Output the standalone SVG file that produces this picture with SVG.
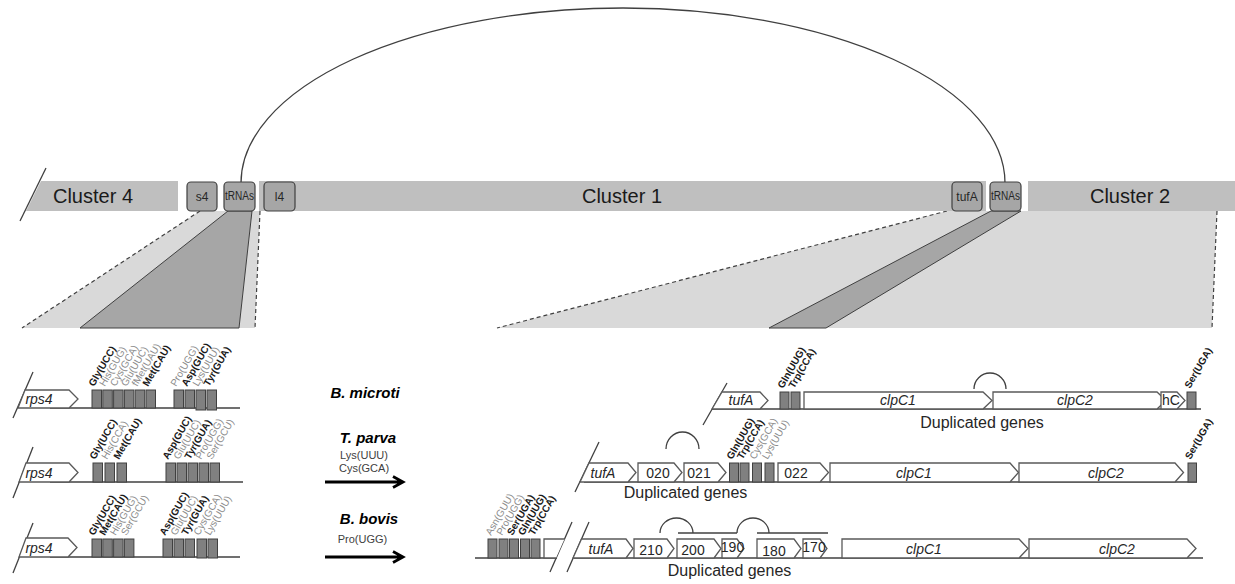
<svg xmlns="http://www.w3.org/2000/svg" width="1235" height="584" viewBox="0 0 1235 584">
<style>
text{font-family:"Liberation Sans",Arial,sans-serif}
.bar{fill:#bfbfbf}
.box{fill:#a6a6a6;stroke:#404040;stroke-width:1.2}
.bt{font-size:12px;fill:#262626;text-anchor:middle}
.ct{font-size:20px;fill:#1a1a1a;text-anchor:middle}
.lt{fill:#d9d9d9}
.dash{stroke:#404040;stroke-width:1.2;stroke-dasharray:4 3;fill:none}
.dk{fill:#a6a6a6;stroke:#404040;stroke-width:1}
.gene{fill:#fff;stroke:#595959;stroke-width:1.3}
.tr{fill:#808080;stroke:#404040;stroke-width:1}
.ln{stroke:#404040;stroke-width:1.3;fill:none}
.lb{font-size:10px;font-weight:bold;fill:#1a1a1a}
.lg{font-size:10px;fill:#8c8c8c}
.gl{font-size:14px;fill:#262626;text-anchor:middle}
.it{font-style:italic}
.sp{font-size:15px;font-weight:bold;font-style:italic;fill:#000;text-anchor:middle}
.sm{font-size:11px;fill:#404040;text-anchor:middle}
.dup{font-size:16px;fill:#262626;text-anchor:middle}
.arr{stroke:#000;stroke-width:2.8;fill:none}
</style>
<g id="zooms">
<polygon class="lt" points="200,211 260,211 255,328 22,328"/>
<line class="dash" x1="200" y1="211" x2="22" y2="328"/>
<line class="dash" x1="260" y1="211" x2="255" y2="328"/>
<polygon class="dk" points="228,211 252,211 239,328 80,328"/>
<polygon class="lt" points="947,211 1217,211 1212,328 497,328"/>
<line class="dash" x1="947" y1="211" x2="497" y2="328"/>
<line class="dash" x1="1217" y1="211" x2="1212" y2="328"/>
<polygon class="dk" points="991,211 1021,211 826,328 769,328"/>
</g>
<g id="clusters">
<polygon class="bar" points="41,181 178,181 178,211 26,211"/>
<line class="ln" x1="46" y1="168" x2="20" y2="221" stroke-width="1.2"/>
<text class="ct" x="93" y="203">Cluster 4</text>
<rect class="bar" x="259" y="181" width="727" height="30"/>
<text class="ct" x="622" y="203">Cluster 1</text>
<rect class="bar" x="1028" y="181" width="207" height="30"/>
<text class="ct" x="1130" y="203">Cluster 2</text>
</g>
<g id="connectors">
<path class="ln" d="M241,183 A382,175 0 0 1 1005,183" stroke="#000" stroke-width="1.5"/>
</g>
<g id="box-s4"><rect class="box" x="187" y="182" width="30" height="29" rx="4"/><text class="bt" x="202" y="201">s4</text></g>
<g id="box-trnas1"><rect class="box" x="224" y="182" width="31" height="29" rx="4"/><text class="bt" x="239.5" y="200" font-size="9.5" textLength="29" lengthAdjust="spacingAndGlyphs">tRNAs</text></g>
<g id="box-l4"><rect class="box" x="264" y="182" width="31" height="29" rx="4"/><text class="bt" x="279.5" y="201">l4</text></g>
<g id="box-tufA"><rect class="box" x="952" y="182" width="30" height="29" rx="4"/><text class="bt" x="967" y="201">tufA</text></g>
<g id="box-trnas2"><rect class="box" x="990" y="182" width="31" height="29" rx="4"/><text class="bt" x="1005.5" y="200" font-size="9.5" textLength="29" lengthAdjust="spacingAndGlyphs">tRNAs</text></g>

<g id="left-row1">
<line class="ln" x1="50" y1="408" x2="240" y2="408"/>
<line class="ln" x1="33" y1="372" x2="13" y2="418" stroke-width="1.2"/>
<polygon class="gene" points="25,390 69,390 78,399 69,408 18,408"/>
<text class="gl it" x="39" y="404" font-size="13">rps4</text>
<rect class="tr" x="92" y="390" width="9.5" height="18"/>
<rect class="tr" x="102.8" y="390" width="9.5" height="18"/>
<rect class="tr" x="113.6" y="390" width="9.5" height="18"/>
<rect class="tr" x="124.4" y="390" width="9.5" height="18"/>
<rect class="tr" x="135.2" y="390" width="9.5" height="18"/>
<rect class="tr" x="146" y="390" width="9.5" height="18"/>
<rect class="tr" x="174" y="390" width="9.5" height="18"/>
<rect class="tr" x="185" y="390" width="9.5" height="18"/>
<rect class="tr" x="196" y="390" width="9.5" height="20"/>
<rect class="tr" x="207" y="390" width="9.5" height="20"/>
<text class="lb" transform="translate(94,387) rotate(-60)">Gly(UCC)</text>
<text class="lg" transform="translate(104.8,387) rotate(-60)">His(GUG)</text>
<text class="lg" transform="translate(115.6,387) rotate(-60)">Cys(GCA)</text>
<text class="lg" transform="translate(126.4,387) rotate(-60)">Glu(UUC)</text>
<text class="lg" transform="translate(137.2,387) rotate(-60)">fMet(UAU)</text>
<text class="lb" transform="translate(148,387) rotate(-60)">Met(CAU)</text>
<text class="lg" transform="translate(176,387) rotate(-60)">Pro(UGG)</text>
<text class="lb" transform="translate(187,387) rotate(-60)">Asp(GUC)</text>
<text class="lg" transform="translate(198,387) rotate(-60)">Lys(UUU)</text>
<text class="lb" transform="translate(209,387) rotate(-60)">Tyr(GUA)</text>
</g>

<g id="left-row2">
<line class="ln" x1="50" y1="482" x2="243" y2="482"/>
<line class="ln" x1="33" y1="447" x2="13" y2="498" stroke-width="1.2"/>
<polygon class="gene" points="26,463 69,463 78,472.5 69,482 19,482"/>
<text class="gl it" x="39" y="478" font-size="13">rps4</text>
<rect class="tr" x="93" y="463" width="9.5" height="19"/>
<rect class="tr" x="105" y="463" width="9.5" height="19"/>
<rect class="tr" x="117" y="463" width="9.5" height="19"/>
<rect class="tr" x="166" y="463" width="9.5" height="19"/>
<rect class="tr" x="177" y="463" width="9.5" height="19"/>
<rect class="tr" x="188" y="463" width="9.5" height="19"/>
<rect class="tr" x="199" y="463" width="9.5" height="19"/>
<rect class="tr" x="210" y="463" width="9.5" height="19"/>
<text class="lb" transform="translate(95,460) rotate(-60)">Gly(UCC)</text>
<text class="lg" transform="translate(107,460) rotate(-60)">His(CCA)</text>
<text class="lb" transform="translate(119,460) rotate(-60)">Met(CAU)</text>
<text class="lb" transform="translate(168,460) rotate(-60)">Asp(GUC)</text>
<text class="lg" transform="translate(179,460) rotate(-60)">Glu(UUC)</text>
<text class="lb" transform="translate(190,460) rotate(-60)">Tyr(GUA)</text>
<text class="lg" transform="translate(201,460) rotate(-60)">Pro(UGG)</text>
<text class="lg" transform="translate(212,460) rotate(-60)">Ser(GCU)</text>
</g>

<g id="left-row3">
<line class="ln" x1="50" y1="557" x2="240" y2="557"/>
<line class="ln" x1="33" y1="523" x2="13" y2="573" stroke-width="1.2"/>
<polygon class="gene" points="26,538 68,538 77,547.5 68,557 19,557"/>
<text class="gl it" x="39" y="553" font-size="13">rps4</text>
<rect class="tr" x="92" y="539" width="9.5" height="18"/>
<rect class="tr" x="102.8" y="539" width="9.5" height="18"/>
<rect class="tr" x="113.6" y="539" width="9.5" height="18"/>
<rect class="tr" x="124.4" y="539" width="9.5" height="18"/>
<rect class="tr" x="163" y="539" width="9.5" height="18"/>
<rect class="tr" x="174" y="539" width="9.5" height="18"/>
<rect class="tr" x="185" y="539" width="9.5" height="18"/>
<rect class="tr" x="197" y="539" width="9.5" height="19"/>
<rect class="tr" x="208" y="539" width="9.5" height="19"/>
<text class="lb" transform="translate(94,536) rotate(-60)">Gly(UCC)</text>
<text class="lb" transform="translate(104.8,536) rotate(-60)">Met(CAU)</text>
<text class="lg" transform="translate(115.6,536) rotate(-60)">His(GUG)</text>
<text class="lg" transform="translate(126.4,536) rotate(-60)">Ser(GCU)</text>
<text class="lb" transform="translate(165,536) rotate(-60)">Asp(GUC)</text>
<text class="lg" transform="translate(176,536) rotate(-60)">Glu(UUC)</text>
<text class="lb" transform="translate(187,536) rotate(-60)">Tyr(GUA)</text>
<text class="lg" transform="translate(199,536) rotate(-60)">Cys(GCA)</text>
<text class="lg" transform="translate(210,536) rotate(-60)">Lys(UUU)</text>
</g>

<g id="species">
<text class="sp" x="365" y="398">B. microti</text>
<text class="sp" x="368" y="443" font-size="17.5">T. parva</text>
<text class="sm" x="364" y="459">Lys(UUU)</text>
<text class="sm" x="364" y="472">Cys(GCA)</text>
<path class="arr" d="M325,482 H402 M393,476.5 L403,482 L393,487.5"/>
<text class="sp" x="369" y="524" font-size="17.5">B. bovis</text>
<text class="sm" x="362.5" y="543">Pro(UGG)</text>
<path class="arr" d="M325,557 H402 M393,551.5 L403,557 L393,562.5"/>
</g>

<g id="right-row1">
<line class="ln" x1="712" y1="409" x2="1201" y2="409"/>
<line class="ln" x1="727" y1="383" x2="703" y2="425" stroke-width="1.2"/>
<polygon class="gene" points="722,392 760,392 768,400.5 760,409 712,409"/>
<text class="gl it" x="741" y="405">tufA</text>
<rect class="tr" x="780" y="392" width="9" height="17"/>
<rect class="tr" x="791" y="392" width="9" height="17"/>
<polygon class="gene" points="804,392 983,392 992,400.5 983,409 804,409"/>
<text class="gl it" x="898" y="405">clpC1</text>
<polygon class="gene" points="993,392 1157,392 1166,400.5 1157,409 993,409"/>
<text class="gl it" x="1075" y="405">clpC2</text>
<polygon class="gene" points="1161,392 1177,392 1185,400.5 1177,409 1161,409"/>
<text class="gl" x="1171" y="405">hC</text>
<rect class="tr" x="1187" y="392" width="9" height="17"/>
<path class="ln" d="M974,389 A16,16 0 0 1 1006,389"/>
<text class="dup" x="982" y="428">Duplicated genes</text>
<text class="lb" transform="translate(783,389) rotate(-60)">Gln(UUG)</text>
<text class="lb" transform="translate(794,389) rotate(-60)">Trp(CCA)</text>
<text class="lb" transform="translate(1190,389) rotate(-60)">Ser(UGA)</text>
</g>

<g id="right-row2">
<line class="ln" x1="584" y1="482" x2="1197" y2="482"/>
<line class="ln" x1="599" y1="442" x2="575" y2="492" stroke-width="1.2"/>
<polygon class="gene" points="589,463 628,463 636,472.5 628,482 580,482"/>
<text class="gl it" x="603" y="478">tufA</text>
<polygon class="gene" points="638,463 674,463 682,472.5 674,482 638,482"/>
<text class="gl" x="658" y="478">020</text>
<polygon class="gene" points="684,463 718,463 726,472.5 718,482 684,482"/>
<text class="gl" x="699" y="478">021</text>
<rect class="tr" x="729.5" y="463" width="9" height="19"/>
<rect class="tr" x="740" y="463" width="9" height="19"/>
<rect class="tr" x="752.5" y="463" width="9" height="19"/>
<rect class="tr" x="765" y="463" width="9" height="19"/>
<polygon class="gene" points="778,463 820,463 828.5,472.5 820,482 778,482"/>
<text class="gl" x="796" y="478">022</text>
<polygon class="gene" points="830,463 1010,463 1018.5,472.5 1010,482 830,482"/>
<text class="gl it" x="914" y="478">clpC1</text>
<polygon class="gene" points="1019,463 1175,463 1183.5,472.5 1175,482 1019,482"/>
<text class="gl it" x="1106" y="478">clpC2</text>
<rect class="tr" x="1188" y="463" width="8.5" height="19"/>
<path class="ln" d="M666,449 A16.5,17 0 0 1 699,449"/>
<text class="dup" x="685.5" y="498">Duplicated genes</text>
<text class="lb" transform="translate(732,460) rotate(-60)">Gln(UUG)</text>
<text class="lb" transform="translate(742.5,460) rotate(-60)">Trp(CCA)</text>
<text class="lg" transform="translate(755,460) rotate(-60)">Cys(GCA)</text>
<text class="lg" transform="translate(767.5,460) rotate(-60)">Lys(UUU)</text>
<text class="lb" transform="translate(1190.5,460) rotate(-60)">Ser(UGA)</text>
</g>

<g id="right-row3">
<line class="ln" x1="475" y1="558" x2="557" y2="558"/>
<line class="ln" x1="574" y1="558" x2="1203" y2="558"/>
<line class="ln" x1="572" y1="522" x2="550" y2="572" stroke-width="1.2"/>
<line class="ln" x1="589" y1="522" x2="567" y2="572" stroke-width="1.2"/>
<rect class="tr" x="488" y="539" width="9" height="19"/>
<rect class="tr" x="499" y="539" width="9" height="19"/>
<rect class="tr" x="509.5" y="539" width="9" height="19"/>
<rect class="tr" x="520.5" y="539" width="9" height="19"/>
<rect class="tr" x="531" y="539" width="9" height="19"/>
<path class="gene" d="M564.5,539 H544 V558 H556"/>
<polygon class="gene" points="581.5,539 626,539 633,548.5 626,558 573,558"/>
<text class="gl it" x="601" y="554">tufA</text>
<polygon class="gene" points="634,539 667,539 674,548.5 667,558 634,558"/>
<text class="gl" x="651" y="555">210</text>
<polygon class="gene" points="677,539 714,539 721,548.5 714,558 677,558"/>
<text class="gl" x="693" y="555">200</text>
<polygon class="gene" points="722,539 737,539 744,548.5 737,558 722,558"/>
<text class="gl" x="732.5" y="552" font-size="11">190</text>
<polygon class="gene" points="757,539 794,539 801,548.5 794,558 757,558"/>
<text class="gl" x="774" y="556">180</text>
<polygon class="gene" points="803,539 820,539 827,548.5 820,558 803,558"/>
<text class="gl" x="814" y="552" font-size="11">170</text>
<polygon class="gene" points="842,539 1019,539 1028,548.5 1019,558 842,558"/>
<text class="gl it" x="924" y="554">clpC1</text>
<polygon class="gene" points="1029,539 1187,539 1196,548.5 1187,558 1029,558"/>
<text class="gl it" x="1117" y="554">clpC2</text>
<path class="ln" d="M660,533 A16.5,15 0 0 1 693,533"/>
<path class="ln" d="M737,533 A16,15 0 0 1 769,533"/>
<line class="ln" x1="678" y1="533" x2="737" y2="533"/>
<line class="ln" x1="757" y1="533" x2="828" y2="533"/>
<text class="dup" x="729.5" y="576">Duplicated genes</text>
<text class="lg" transform="translate(491,536) rotate(-60)">Asn(GUU)</text>
<text class="lg" transform="translate(502,536) rotate(-60)">Pro(UGG)</text>
<text class="lb" transform="translate(512.5,536) rotate(-60)">Ser(UGA)</text>
<text class="lb" transform="translate(523.5,536) rotate(-60)">Gln(UUG)</text>
<text class="lb" transform="translate(534,536) rotate(-60)">Trp(CCA)</text>
</g>
</svg>
